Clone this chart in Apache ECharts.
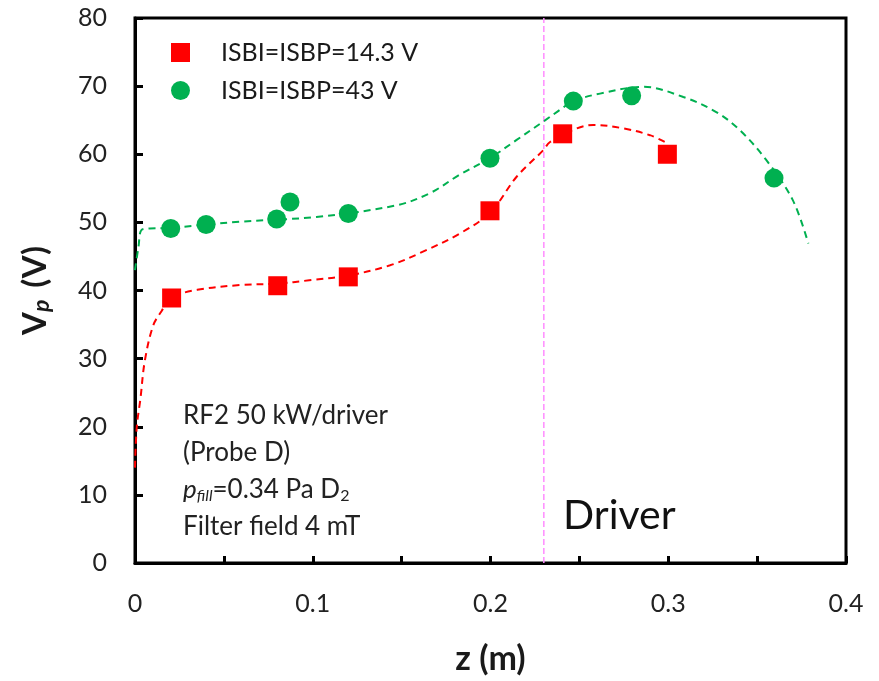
<!DOCTYPE html>
<html>
<head>
<meta charset="utf-8">
<script src="https://cdn.jsdelivr.net/npm/echarts@6/dist/echarts.min.js"></script>
<style>
  html, body { margin: 0; padding: 0; background: #fff; }
  #chart { width: 879px; height: 681px; }
</style>
</head>
<body>
<div id="chart"></div>
<script>
// Measured plasma potential along z, two bias settings
const zLow = [0.0206, 0.0803, 0.120, 0.1997, 0.2406, 0.2995];
const vpLow = [38.9, 40.7, 42.0, 51.7, 63.0, 60.0];

const zHigh = [0.0201, 0.040, 0.0797, 0.0872, 0.120, 0.1997, 0.2466, 0.2794, 0.3595];
const vpHigh = [49.1, 49.7, 50.5, 53.0, 51.3, 59.4, 67.8, 68.6, 56.5];

// Dashed guide curves through each data set
const zFitLow = [0, 0.001, 0.003, 0.0056, 0.0103, 0.015, 0.02, 0.035, 0.059, 0.08, 0.098, 0.12, 0.1435, 0.162, 0.183, 0.2, 0.2147, 0.2297, 0.2335, 0.2485, 0.2578, 0.2747, 0.2897, 0.298];
const vpFitLow = [14, 20, 24, 29.8, 34.9, 37.0, 38.9, 40.1, 40.8, 41.0, 41.5, 42.2, 43.7, 45.7, 48.4, 51.5, 56.7, 60.6, 61.8, 63.8, 64.3, 63.8, 62.8, 61.8];

const zFitHigh = [0, 0.002, 0.0037, 0.0084, 0.02, 0.059, 0.102, 0.147, 0.166, 0.182, 0.2, 0.2147, 0.2297, 0.239, 0.2466, 0.2616, 0.286, 0.3085, 0.327, 0.340, 0.355, 0.370, 0.3788];
const vpFitHigh = [43, 46.5, 48.9, 49.1, 49.2, 50.1, 50.8, 52.5, 54.3, 56.9, 59.5, 62.1, 64.8, 66.5, 67.8, 68.9, 69.9, 68.4, 66.2, 63.6, 59.2, 53.3, 46.9];

// Driver boundary position
const zDriver = 0.23;
const driverSpan = [0, 80];

const seriesNames = ['ISBI=ISBP=14.3 V', 'ISBI=ISBP=43 V'];

const pair = (xs, ys) => xs.map((x, i) => [x, ys[i]]);

const FONT = 'Lato, "Open Sans", sans-serif';
const RED = '#ff0000';
const GREEN = '#00b050';

const chart = echarts.init(document.getElementById('chart'), null, { renderer: 'canvas' });

chart.setOption({
  backgroundColor: '#ffffff',
  animation: false,
  grid: {
    left: 135, right: 33, top: 18, bottom: 118,
    show: true, borderColor: '#000', borderWidth: 3, backgroundColor: 'transparent'
  },
  legend: {
    data: seriesNames,
    orient: 'vertical',
    left: 166, top: 35,
    itemWidth: 19, itemHeight: 19,
    itemGap: 13,
    textStyle: { fontFamily: FONT, fontSize: 25, color: '#1a1a1a', padding: [0, 0, 0, 26] }
  },
  xAxis: {
    type: 'value', min: 0, max: 0.4, interval: 0.05,
    name: 'z (m)', nameLocation: 'middle', nameGap: 79,
    nameTextStyle: { fontFamily: FONT, fontSize: 34, fontWeight: 'bold', color: '#1a1a1a' },
    axisLine: { lineStyle: { color: '#000', width: 3 } },
    axisTick: { inside: true, length: 7, lineStyle: { color: '#000', width: 3 } },
    axisLabel: {
      margin: 28, fontFamily: FONT, fontSize: 25, color: '#222',
      formatter: v => (Math.round(v * 100) % 10 === 0 ? String(+v.toFixed(1)) : '')
    },
    splitLine: { show: false }
  },
  yAxis: {
    type: 'value', min: 0, max: 80, interval: 10,
    name: '{v|V}{p|p}{v| (V)}', nameLocation: 'middle', nameGap: 82, nameRotate: 90,
    nameTextStyle: {
      rich: {
        v: { fontFamily: FONT, fontSize: 33, fontWeight: 'bold', color: '#1a1a1a' },
        p: { fontFamily: FONT, fontSize: 23, fontWeight: 'bold', fontStyle: 'italic', color: '#1a1a1a', padding: [13, 4, 0, 0] }
      }
    },
    axisLine: { lineStyle: { color: '#000', width: 3 } },
    axisTick: { inside: true, length: 8, lineStyle: { color: '#000', width: 3 } },
    axisLabel: { margin: 28, fontFamily: FONT, fontSize: 25, color: '#222' },
    splitLine: { show: false }
  },
  series: [
    {
      type: 'line', data: pair([zDriver, zDriver], driverSpan),
      symbol: 'none', silent: true, z: 1,
      lineStyle: { color: '#ff8cff', width: 1.5, type: [6, 3] }
    },
    {
      type: 'line', data: pair(zFitLow, vpFitLow), smooth: 0.35,
      symbol: 'none', silent: true, z: 2,
      lineStyle: { color: RED, width: 2, type: [7, 5] }
    },
    {
      type: 'line', data: pair(zFitHigh, vpFitHigh), smooth: 0.35,
      symbol: 'none', silent: true, z: 2,
      lineStyle: { color: GREEN, width: 2, type: [7, 5] }
    },
    {
      name: seriesNames[0], type: 'scatter', data: pair(zLow, vpLow),
      symbol: 'rect', symbolSize: 19, z: 3,
      itemStyle: { color: RED, opacity: 1 }
    },
    {
      name: seriesNames[1], type: 'scatter', data: pair(zHigh, vpHigh),
      symbol: 'circle', symbolSize: 19, z: 3,
      itemStyle: { color: GREEN, opacity: 1 }
    }
  ],
  graphic: [
    {
      type: 'text', left: 183, top: 397, silent: true,
      style: {
        text: 'RF2 50 kW/driver\n(Probe D)\n{i|p}{sub|fill}=0.34 Pa D{s2|2}\nFilter field 4 mT',
        font: '26px ' + FONT, fill: '#222', lineHeight: 37,
        rich: {
          i: { fontFamily: FONT, fontSize: 26, fontStyle: 'italic', fill: '#222' },
          sub: { fontFamily: FONT, fontSize: 16, fontStyle: 'italic', fill: '#222', padding: [12, 0, 0, 0] },
          s2: { fontFamily: FONT, fontSize: 16, fill: '#222', padding: [12, 0, 0, 0] }
        }
      }
    },
    {
      type: 'text', left: 563, top: 495, silent: true,
      style: { text: 'Driver', font: '41px ' + FONT, fill: '#111' }
    }
  ]
});
</script>
</body>
</html>
